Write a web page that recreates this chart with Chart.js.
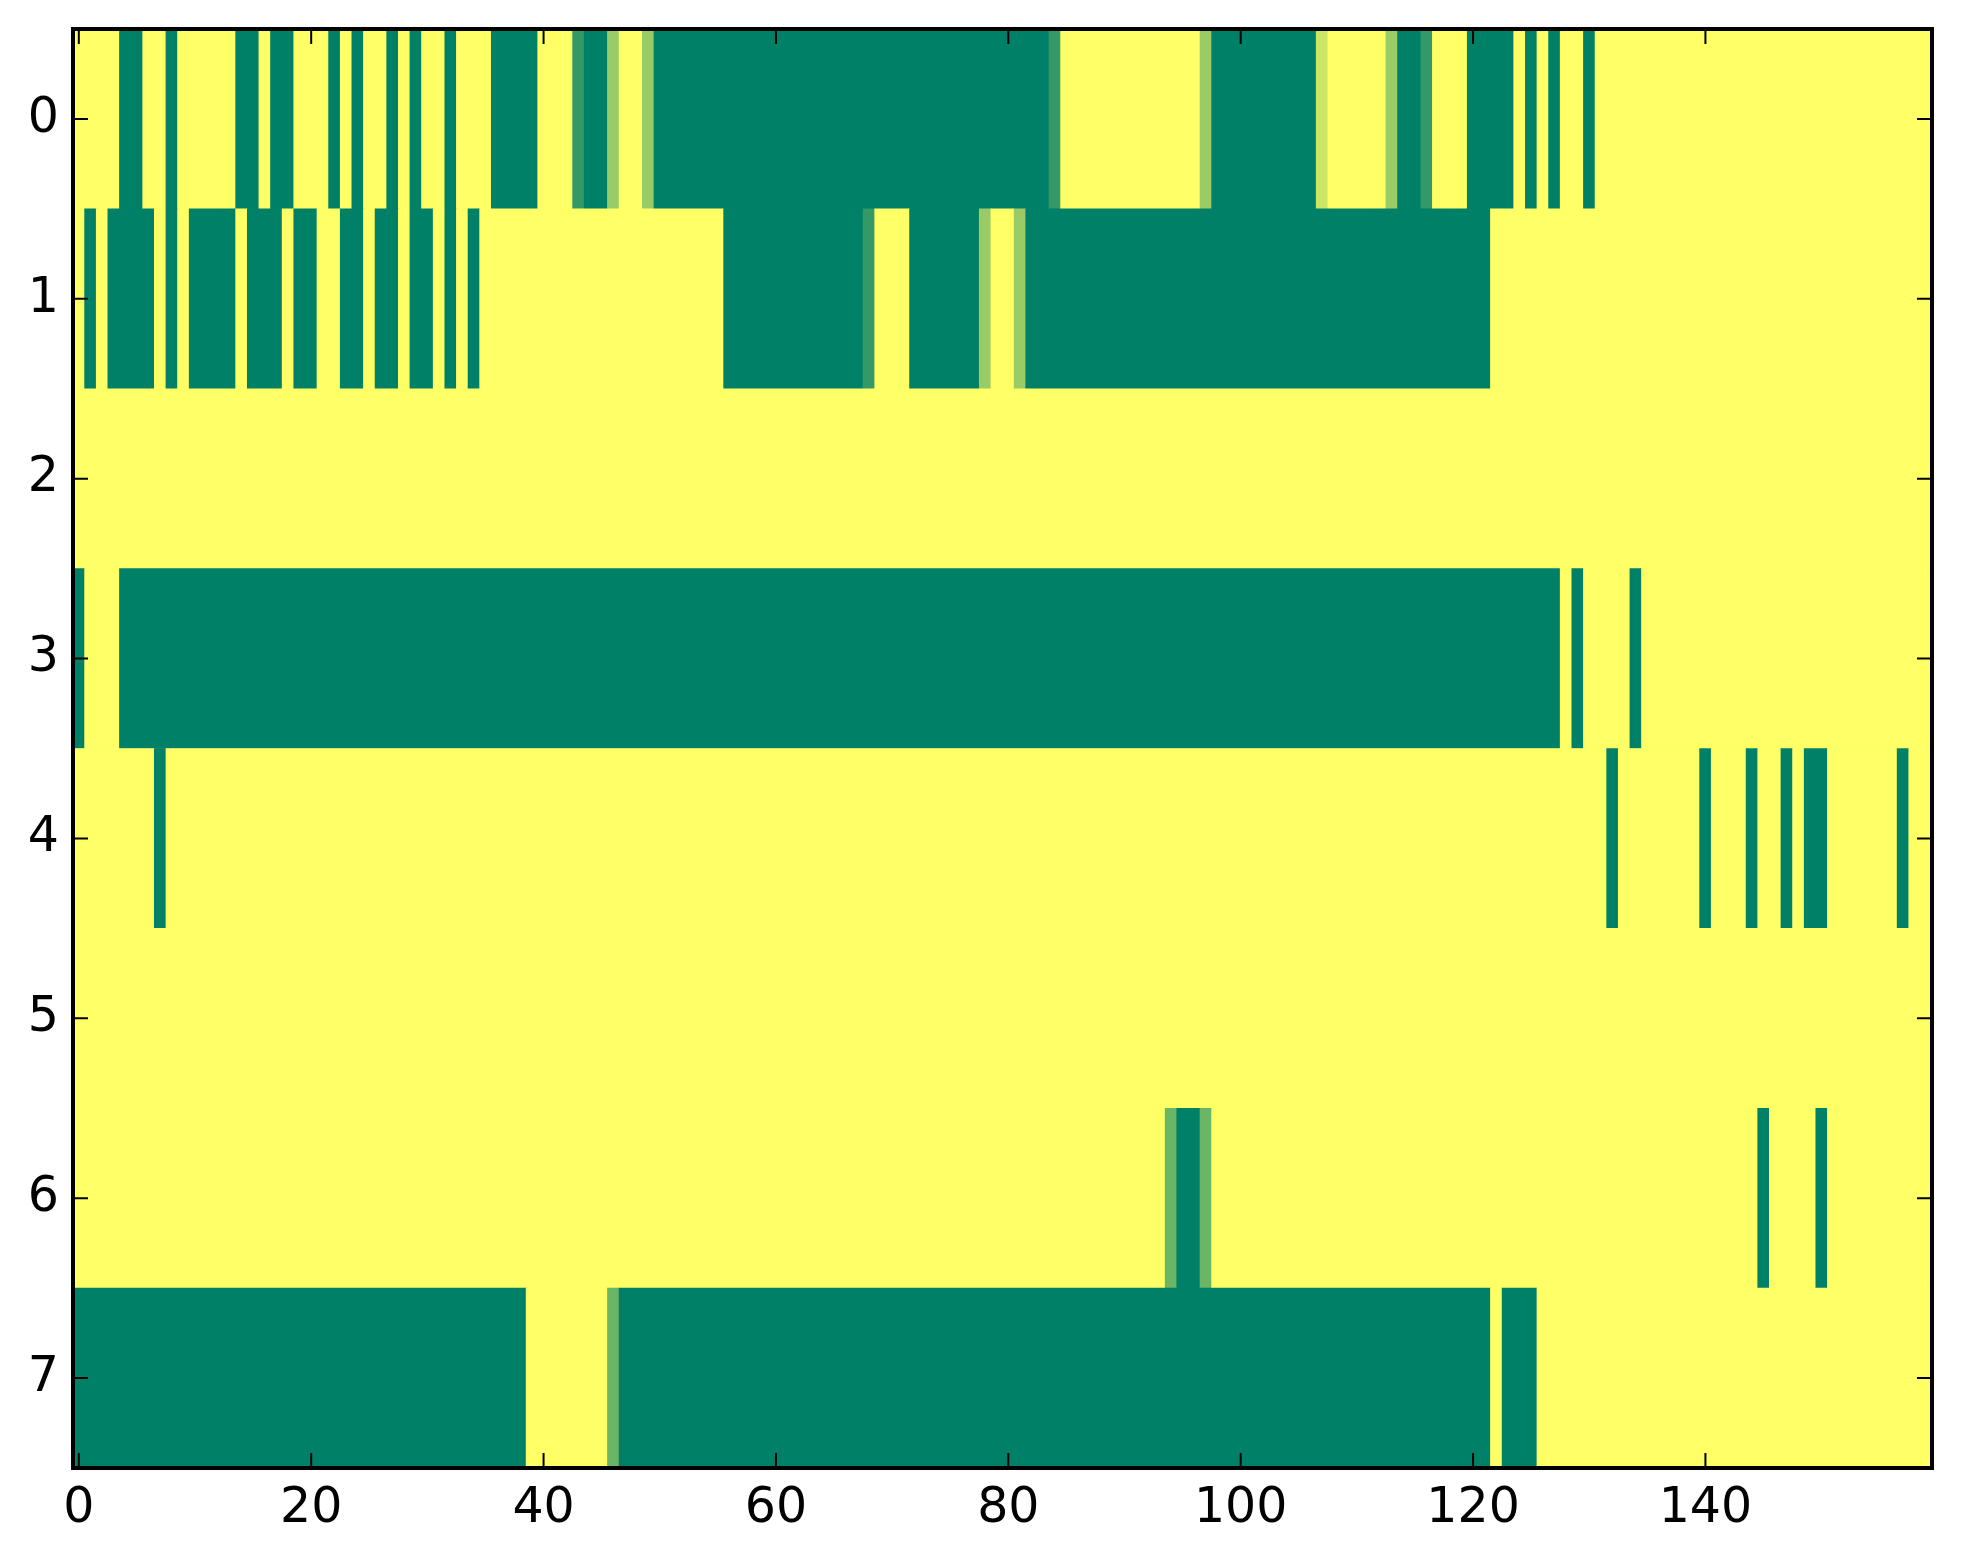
<!DOCTYPE html>
<html>
<head>
<meta charset="utf-8">
<script src="https://cdn.jsdelivr.net/npm/chart.js@4.4.1/dist/chart.umd.min.js"></script>
<style>
  html, body { margin: 0; padding: 0; background: #ffffff; }
  #wrap { width: 1963px; height: 1564px; position: relative; }
</style>
</head>
<body>
<div id="wrap"><canvas id="heat"></canvas></div>
<script>
// row labels (top to bottom) and x tick labels
const rowLabels = ['0', '1', '2', '3', '4', '5', '6', '7'];
const xTickValues = [0, 20, 40, 60, 80, 100, 120, 140];
const nCols = 160;

const row0 = [[1,4],[0,2],[1,2],[0,1],[1,5],[0,2],[1,1],[0,2],[1,3],[0,1],[1,1],[0,1],[1,2],[0,1],[1,1],[0,1],
  [1,2],[0,1],[1,3],[0,4],[1,3],[0.2,1],[0,2],[0.6,1],[1,2],[0.6,1],[0,34],[0.2,1],[1,12],[0.6,1],[0,9],
  [0.8,1],[1,5],[0.6,1],[0,2],[0.2,1],[1,3],[0,4],[1,1],[0,1],[1,1],[0,1],[1,2],[0,1],[1,29]];
const row1 = [[1,1],[0,1],[1,1],[0,4],[1,1],[0,1],[1,1],[0,4],[1,1],[0,3],[1,1],[0,2],[1,2],[0,2],[1,1],[0,2],
  [1,1],[0,2],[1,1],[0,1],[1,1],[0,1],[1,21],[0,12],[0.2,1],[1,3],[0,6],[0.6,1],[1,2],[0.6,1],[0,40],[1,38]];
const row2 = [[1,160]];
const row3 = [[0,1],[1,3],[0,124],[1,1],[0,1],[1,4],[0,1],[1,25]];
const row4 = [[1,7],[0,1],[1,124],[0,1],[1,7],[0,1],[1,3],[0,1],[1,2],[0,1],[1,1],[0,2],[1,6],[0,1],[1,2]];
const row5 = [[1,160]];
const row6 = [[1,94],[0.42,1],[0,2],[0.42,1],[1,47],[0,1],[1,4],[0,1],[1,9]];
const row7 = [[0,39],[1,7],[0.42,1],[0,75],[1,1],[0,3],[1,34]];
const rows = [row0, row1, row2, row3, row4, row5, row6, row7];

// matplotlib "summer" colormap
function summer(v) {
  const r = Math.round(255 * v);
  const g = Math.round(255 * (0.5 + v / 2));
  return 'rgb(' + r + ',' + g + ',102)';
}

// one floating bar per run of equal cells
const cells = [];
rows.forEach(function(runs, r) {
  let start = 0;
  runs.forEach(function(run) {
    cells.push({ x: [start - 0.5, start + run[1] - 0.5], y: rowLabels[r], v: run[0] });
    start += run[1];
  });
});

const FONT = { family: 'DejaVu Sans', size: 49 };

// black frame with inward ticks on all four sides
const framePlugin = {
  id: 'frame',
  afterDraw(chart) {
    const ctx = chart.ctx;
    const a = chart.chartArea;
    const xs = chart.scales.x, ys = chart.scales.y;
    const len = 15;
    ctx.save();
    ctx.strokeStyle = '#000';
    ctx.lineWidth = 2;
    ctx.beginPath();
    xTickValues.forEach(function(v) {
      const px = xs.getPixelForValue(v);
      ctx.moveTo(px, a.bottom); ctx.lineTo(px, a.bottom - len);
      ctx.moveTo(px, a.top); ctx.lineTo(px, a.top + len);
    });
    rowLabels.forEach(function(l, i) {
      const py = ys.getPixelForValue(i);
      ctx.moveTo(a.left, py); ctx.lineTo(a.left + len, py);
      ctx.moveTo(a.right, py); ctx.lineTo(a.right - len, py);
    });
    ctx.stroke();
    ctx.lineWidth = 4;
    ctx.strokeRect(a.left, a.top, a.right - a.left, a.bottom - a.top);
    ctx.restore();
  }
};

new Chart(document.getElementById('heat'), {
  type: 'bar',
  data: {
    labels: rowLabels,
    datasets: [{
      data: cells,
      backgroundColor: function(c) { return summer(c.raw.v); },
      borderWidth: 0,
      categoryPercentage: 1,
      barPercentage: 1
    }]
  },
  options: {
    indexAxis: 'y',
    responsive: true,
    maintainAspectRatio: false,
    devicePixelRatio: 1,
    animation: false,
    layout: { padding: { top: 29, right: 31, left: 0, bottom: 0 } },
    plugins: { legend: { display: false }, tooltip: { enabled: false } },
    scales: {
      x: {
        type: 'linear',
        min: -0.5,
        max: nCols - 0.5,
        grid: { display: false, drawTicks: false },
        border: { display: false },
        afterBuildTicks: function(s) { s.ticks = xTickValues.map(function(v) { return { value: v }; }); },
        afterFit: function(s) { s.height = 96; s.paddingLeft = 0; s.paddingRight = 0; },
        ticks: { color: '#000', font: FONT, padding: 12, maxRotation: 0 }
      },
      y: {
        type: 'category',
        labels: rowLabels,
        offset: true,
        grid: { display: false, drawTicks: false, offset: true },
        border: { display: false },
        afterFit: function(s) { s.width = 73; s.paddingTop = 0; s.paddingBottom = 0; },
        ticks: { color: '#000', font: FONT, padding: 14 }
      }
    }
  },
  plugins: [framePlugin]
});
</script>
</body>
</html>
